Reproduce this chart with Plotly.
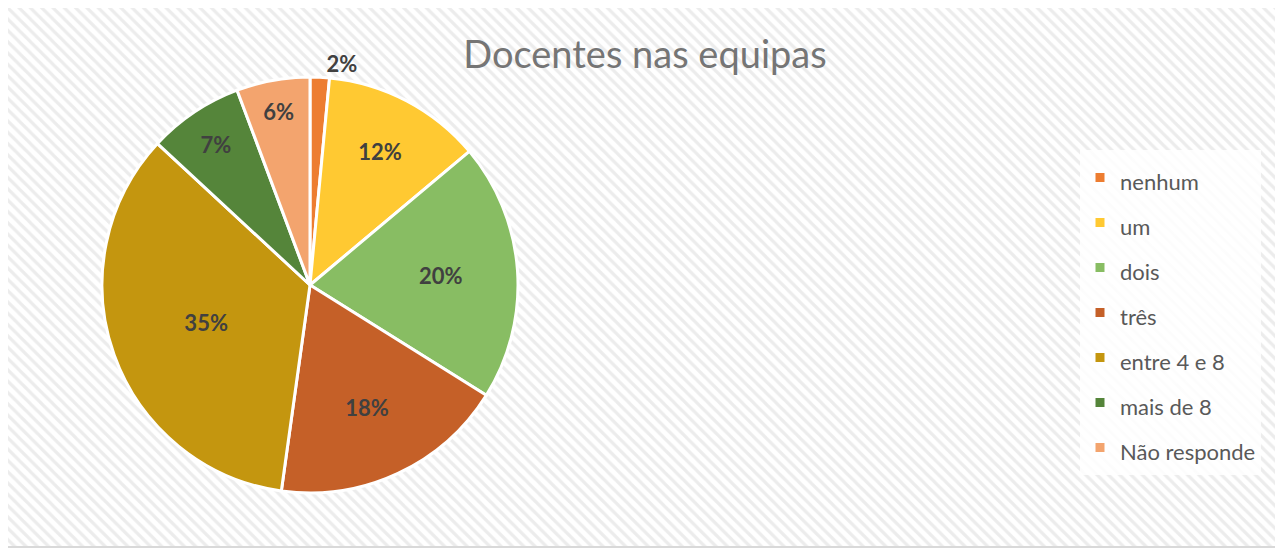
import plotly.graph_objects as go

categories = ["nenhum", "um", "dois", "três", "entre 4 e 8", "mais de 8", "Não responde"]
values = [1.5, 12.4, 20.0, 18.3, 34.7, 7.4, 5.7]
pct_labels = ["2%", "12%", "20%", "18%", "35%", "7%", "6%"]
colors = ["#ED7D31", "#FFC932", "#88BD63", "#C56028", "#C4960F", "#55853A", "#F3A46E"]
text_pos = ["outside", "inside", "inside", "inside", "inside", "inside", "inside"]

OFF = 8  # page body margin
W, H = 1283 - OFF, 549 - OFF


def px(v):
    return v - OFF


FX0, FX1, FY0, FY1 = px(7), px(1276), px(7), px(547)  # chart frame in pixels (from top)

fig = go.Figure()

# hatched background inside the chart frame
fig.add_trace(go.Scatter(
    x=[FX0, FX1, FX1, FX0, FX0], y=[H - FY1, H - FY1, H - FY0, H - FY0, H - FY1],
    mode="lines", fill="toself",
    line=dict(width=2, color="#d9d9d9"), hoverinfo="skip", showlegend=False,
    fillcolor="white",
    fillpattern=dict(shape="\\", fgcolor="#dadada", bgcolor="white", size=8, solidity=0.4),
))

cx, cy, r = px(310), px(285), 208
legend_labels = ['<span style="font-size:22px">%s</span>' % c for c in categories]

fig.add_trace(go.Pie(
    labels=legend_labels, values=values, text=pct_labels, textinfo="text",
    textposition=text_pos, sort=False, direction="clockwise", rotation=0,
    marker=dict(colors=colors, line=dict(color="white", width=3)),
    insidetextorientation="horizontal",
    textfont=dict(family="Lato", size=22, color="#404040", weight="bold"),
    outsidetextfont=dict(family="Lato", size=22, color="#404040", weight="bold"),
    domain=dict(x=[(cx - r) / W, (cx + r) / W], y=[(H - cy - r) / H, (H - cy + r) / H]),
    hoverinfo="skip",
))

fig.update_layout(
    width=W, height=H,
    margin=dict(l=0, r=0, t=0, b=0),
    paper_bgcolor="white", plot_bgcolor="white",
    xaxis=dict(visible=False, range=[0, W], fixedrange=True),
    yaxis=dict(visible=False, range=[0, H], fixedrange=True),
    title=dict(text="Docentes nas equipas", x=px(645) / W, xanchor="center", y=1 - px(55) / H, yanchor="middle",
               font=dict(family="Lato", size=38, color="#757575")),
    legend=dict(x=px(1080) / W, xanchor="left", y=1 - px(150) / H, yanchor="top",
                bgcolor="rgba(255,255,255,0.85)", borderwidth=0,
                font=dict(family="Lato", size=32.3, color="#595959"), itemclick=False),
)

fig.write_html("out.html")
